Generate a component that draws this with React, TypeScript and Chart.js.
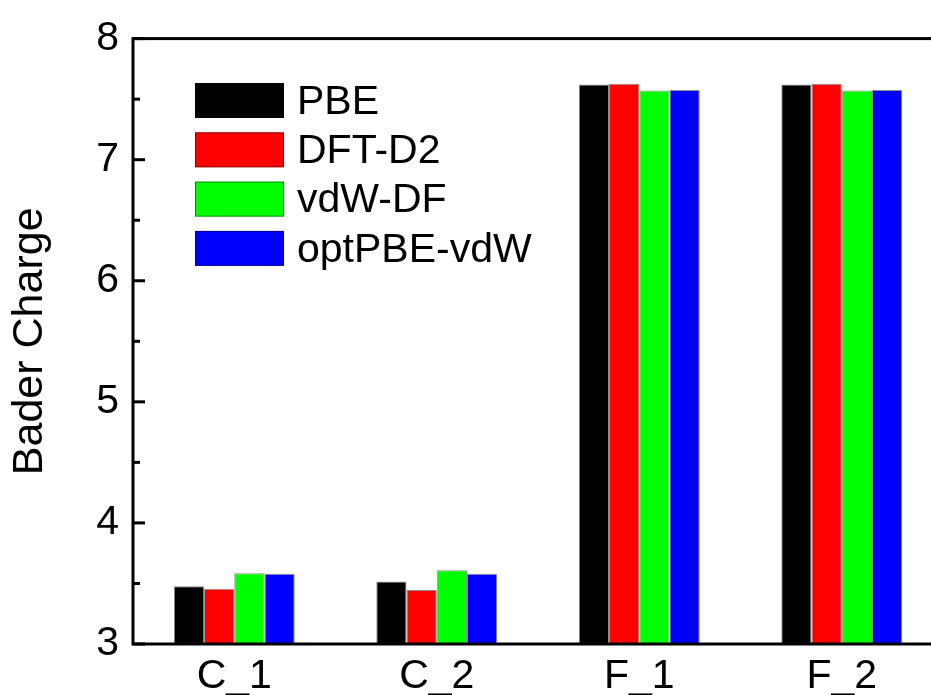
import React, { useEffect, useRef } from "react";
import { Chart, registerables } from "chart.js";

Chart.register(...registerables);

const categories = ["C_1", "C_2", "F_1", "F_2"];
const seriesNames = ["PBE", "DFT-D2", "vdW-DF", "optPBE-vdW"];
const pbe = [3.476, 3.517, 7.62, 7.62];
const dftD2 = [3.457, 3.446, 7.628, 7.628];
const vdwDF = [3.585, 3.61, 7.571, 7.571];
const optPBE = [3.58, 3.58, 7.576, 7.576];
const seriesColors = ["#000000", "#ff0000", "#00ff00", "#0000ff"];
const yTicks = [3, 4, 5, 6, 7, 8];

const FONT = "'Liberation Sans', Arial, sans-serif";
const CW = 960;
const CH = 720;
const AREA_TOP = 35;
const AREA_LEFT = 133;
const AREA_RIGHT = 943;
const AREA_BOTTOM = 644;

const framePlugin = {
  id: "frameAndTicks",
  afterDatasetsDraw(chart: any) {
    const { ctx, chartArea } = chart;
    const y = chart.scales.y;
    ctx.save();
    ctx.strokeStyle = "#000";
    ctx.lineWidth = 3;
    ctx.strokeRect(chartArea.left, chartArea.top, chartArea.right - chartArea.left, chartArea.bottom - chartArea.top);
    for (let v = yTicks[0]; v <= yTicks[yTicks.length - 1] + 1e-9; v += 0.5) {
      const py = y.getPixelForValue(v);
      const major = Math.abs(v - Math.round(v)) < 1e-6;
      const len = major ? 12 : 7;
      ctx.beginPath();
      ctx.moveTo(chartArea.left, py);
      ctx.lineTo(chartArea.left + len, py);
      ctx.stroke();
    }
    ctx.restore();
  },
};

const legendPlugin = {
  id: "insideLegend",
  afterDraw(chart: any) {
    const { ctx } = chart;
    ctx.save();
    const boxX = 195;
    const boxW = 89;
    const boxH = 35;
    const firstTop = 83;
    const pitch = 49.3;
    ctx.font = `41px ${FONT}`;
    ctx.textBaseline = "middle";
    ctx.textAlign = "left";
    chart.data.datasets.forEach((ds: any, i: number) => {
      const top = firstTop + i * pitch;
      ctx.fillStyle = ds.backgroundColor;
      ctx.fillRect(boxX, top, boxW, boxH);
      ctx.strokeStyle = "rgba(0,0,0,0.45)";
      ctx.lineWidth = 1;
      ctx.strokeRect(boxX + 0.5, top + 0.5, boxW - 1, boxH - 1);
      ctx.fillStyle = "#000";
      ctx.fillText(ds.label, 297, top + boxH / 2 + 2);
    });
    ctx.restore();
  },
};

export default function App() {
  const ref = useRef<HTMLCanvasElement | null>(null);

  useEffect(() => {
    if (!ref.current) return;
    const values = [pbe, dftD2, vdwDF, optPBE];
    const chart = new Chart(ref.current, {
      type: "bar",
      data: {
        labels: categories,
        datasets: seriesNames.map((name, i) => ({
          label: name,
          data: values[i],
          backgroundColor: seriesColors[i],
          borderColor: "rgba(0,0,0,0.45)",
          borderWidth: 1,
          categoryPercentage: 0.597,
          barPercentage: 1,
        })),
      },
      options: {
        animation: false,
        responsive: false,
        maintainAspectRatio: false,
        devicePixelRatio: 1,
        layout: {
          padding: { left: 0, top: AREA_TOP, right: CW - AREA_RIGHT, bottom: 0 },
        },
        plugins: {
          legend: { display: false },
          tooltip: { enabled: false },
        },
        scales: {
          x: {
            grid: { display: false, drawTicks: false },
            border: { display: false },
            ticks: {
              color: "#000",
              font: { family: FONT, size: 41 },
              padding: 8,
              maxRotation: 0,
              autoSkip: false,
            },
            afterFit(scale: any) {
              scale.height = CH - AREA_BOTTOM;
            },
          },
          y: {
            min: 3,
            max: 8,
            grid: { display: false, drawTicks: false },
            border: { display: false },
            ticks: {
              stepSize: 1,
              color: "#000",
              font: { family: FONT, size: 41 },
              padding: 14,
            },
            title: {
              display: true,
              text: "Bader Charge",
              color: "#000",
              font: { family: FONT, size: 43 },
              padding: { top: 4, bottom: 0 },
            },
            afterFit(scale: any) {
              scale.width = AREA_LEFT;
            },
          },
        },
      },
      plugins: [framePlugin, legendPlugin],
    });
    return () => chart.destroy();
  }, []);

  return (
    <div
      style={{
        position: "fixed",
        left: 0,
        top: 0,
        width: 931,
        height: 695,
        overflow: "hidden",
        background: "#fff",
      }}
    >
      <canvas ref={ref} width={CW} height={CH} style={{ display: "block", width: CW, height: CH }} />
    </div>
  );
}
